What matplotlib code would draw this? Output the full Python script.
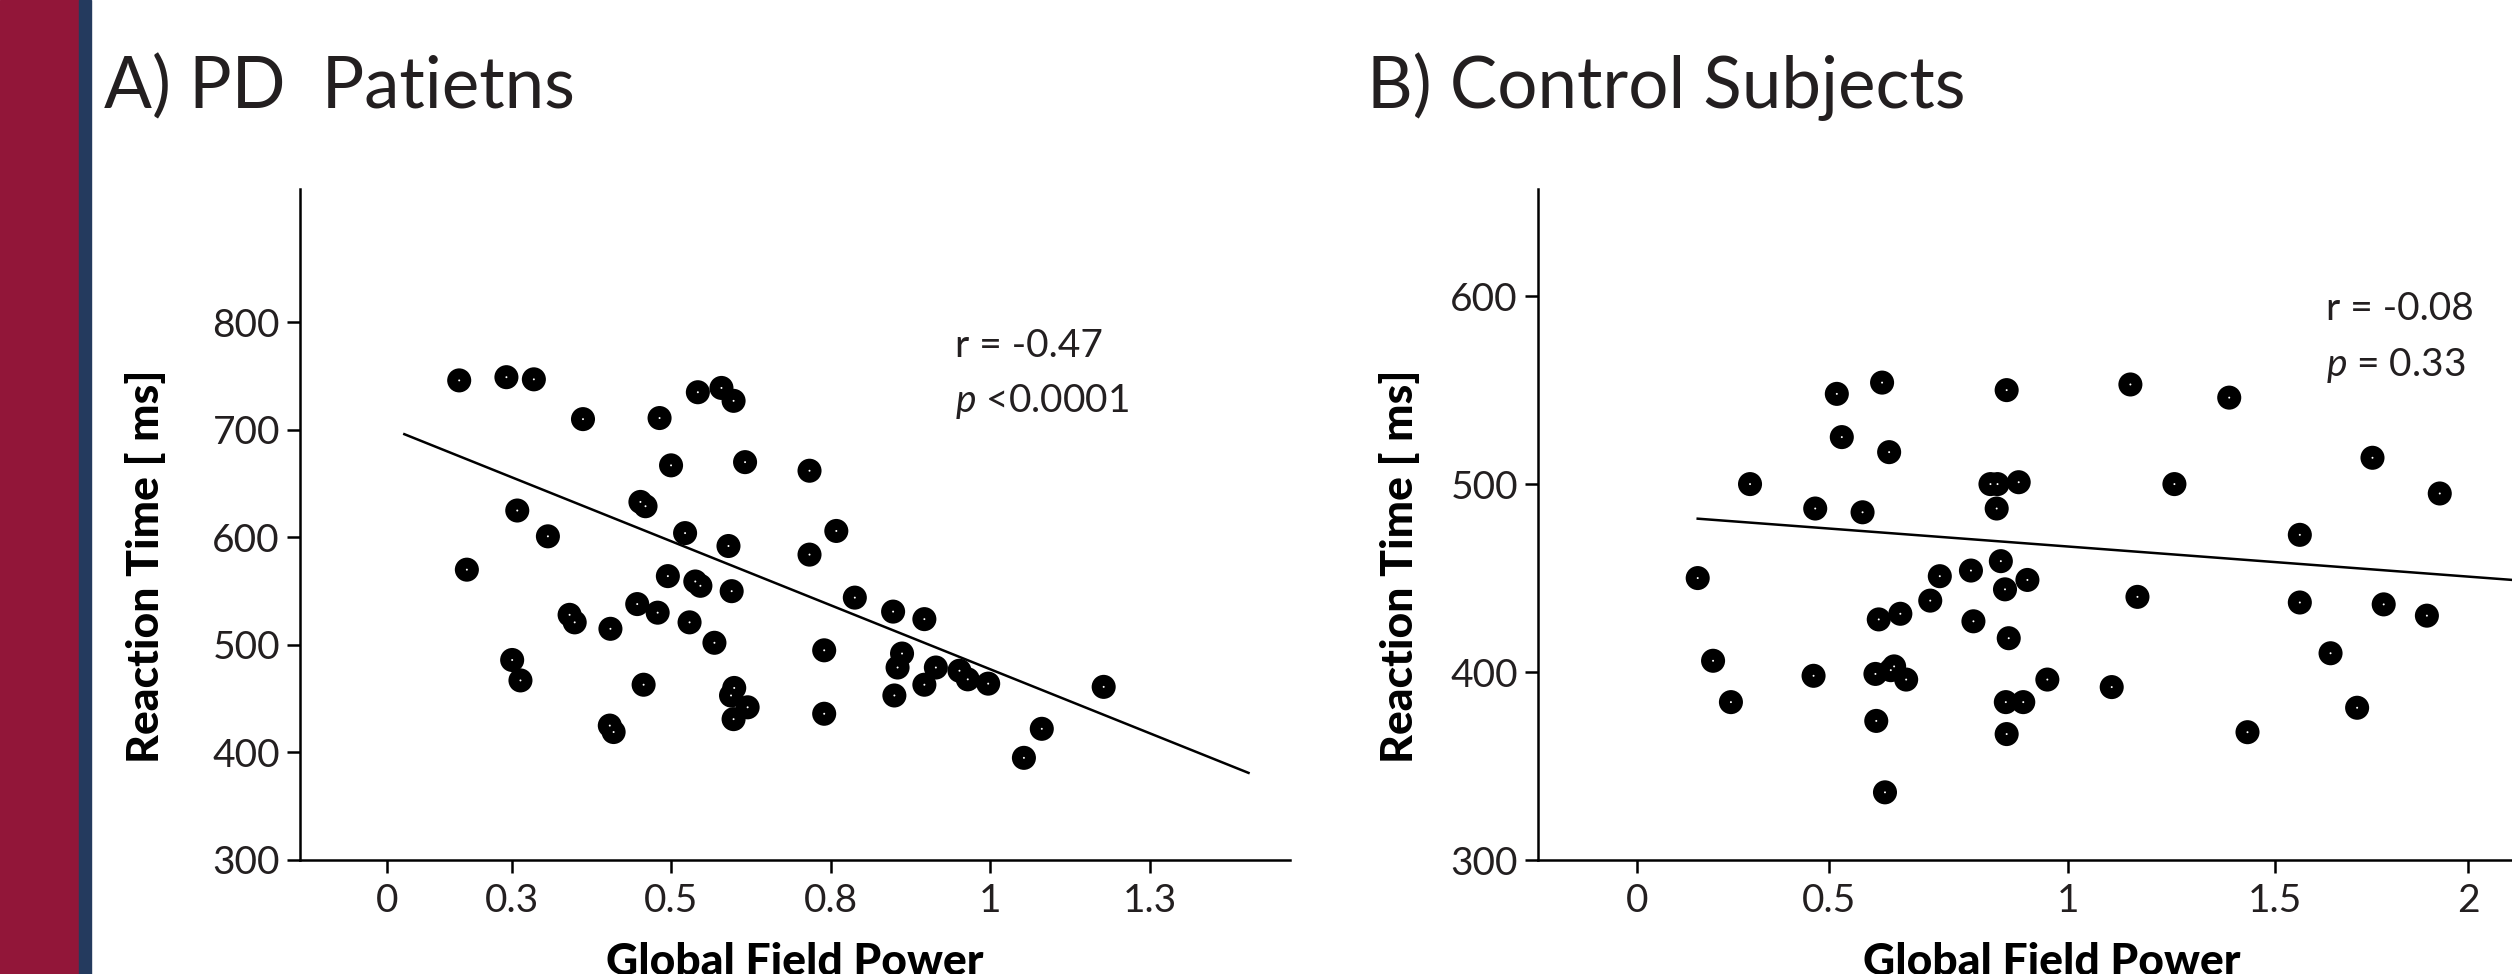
import numpy as np
import matplotlib
matplotlib.use('Agg')
import matplotlib.pyplot as plt
from matplotlib.patches import Rectangle

plt.rcParams['font.family'] = ['Lato', 'DejaVu Sans']
plt.rcParams['mathtext.fontset'] = 'custom'
plt.rcParams['mathtext.it'] = 'Lato:italic'
plt.rcParams['mathtext.rm'] = 'Lato'

TXT = '#231f20'

# ---------- data ----------
# A) PD patients
pd_gfp = [0.168, 0.242, 0.285, 0.362, 0.482, 0.542, 0.579, 0.598, 0.500, 0.616,
          0.717, 0.452, 0.460, 0.259, 0.307, 0.522, 0.590, 0.717, 0.759, 0.180,
          0.495, 0.538, 0.546, 0.595, 0.788, 0.447, 0.479, 0.341, 0.349, 0.405,
          0.529, 0.568, 0.848, 0.897, 0.740, 0.862, 0.855, 0.915, 0.952, 0.965,
          0.997, 0.897, 0.850, 1.178, 0.251, 0.264, 0.457, 0.599, 0.594, 0.620,
          0.598, 0.740, 0.404, 0.410, 1.081, 1.053]
pd_rt = [746, 749, 747, 710, 711, 735, 739, 727, 667, 670,
         662, 633, 629, 625, 601, 604, 592, 584, 606, 570,
         564, 559, 555, 550, 544, 538, 530, 528, 521, 515,
         521, 502, 531, 524, 495, 492, 479, 479, 476, 468,
         464, 463, 453, 461, 486, 467, 463, 460, 453, 442,
         431, 436, 425, 419, 422, 395]
pd_fit_x = [0.082, 1.405]
pd_fit_y = [696, 381]

# B) control subjects
ctl_gfp = [0.145, 0.182, 0.225, 0.271, 0.428, 0.424, 0.480, 0.492, 0.542, 0.589,
           0.606, 0.581, 0.633, 0.573, 0.618, 0.610, 0.647, 0.575, 0.596, 0.705,
           0.728, 0.803, 0.809, 0.850, 0.867, 0.918, 0.865, 0.875, 0.885, 0.939,
           0.894, 0.887, 0.929, 0.889, 0.889, 0.987, 1.142, 1.187, 1.204, 1.293,
           1.425, 1.469, 1.595, 1.595, 1.669, 1.733, 1.770, 1.797, 1.901, 1.932]
ctl_rt = [450, 406, 384, 500, 487, 398, 548, 525, 485, 554,
          517, 428, 431, 399, 403, 401, 396, 374, 336, 438,
          451, 454, 427, 500, 500, 501, 487, 459, 444, 449,
          418, 384, 384, 367, 550, 396, 392, 553, 440, 500,
          546, 368, 473, 437, 410, 381, 514, 436, 430, 495]
ctl_fit_x = [0.145, 2.30]
ctl_fit_y = [481.6, 445.8]

pd_xticks = [0.055, 0.25, 0.5, 0.75, 1.0, 1.25]
pd_xticklabels = ['0', '0.3', '0.5', '0.8', '1', '1.3']
pd_yticks = [300, 400, 500, 600, 700, 800]
ctl_xticks = [0.0, 0.461, 1.037, 1.535, 2.0]
ctl_xticklabels = ['0', '0.5', '1', '1.5', '2']
ctl_yticks = [300, 400, 500, 600]

fig = plt.figure(figsize=(25.12, 9.74), dpi=100)

# side bars
fig.patches.append(Rectangle((0, 0), 79 / 2512, 1, transform=fig.transFigure,
                             color='#921639', zorder=0))
fig.patches.append(Rectangle((79 / 2512, 0), 12 / 2512, 1, transform=fig.transFigure,
                             color='#243a5e', zorder=0))


def style(ax):
    for s in ['top', 'right']:
        ax.spines[s].set_visible(False)
    for s in ['left', 'bottom']:
        ax.spines[s].set_linewidth(1.8)
        ax.spines[s].set_color('black')
    ax.tick_params(direction='out', length=9.4, width=1.8, labelsize=28,
                   colors='black', labelcolor=TXT)
    ax.tick_params(axis='y', pad=5)
    ax.tick_params(axis='x', pad=7)


def scatter(ax, x, y):
    ax.scatter(x, y, s=300, c='black', edgecolors='none', zorder=3)
    ax.scatter(x, y, s=2, c='white', edgecolors='none', zorder=4)


lab = dict(fontsize=32, fontweight='black', color='black')

# ---- panel A ----
axA = fig.add_axes([300 / 2512, 1 - 860 / 974, 990 / 2512, 671 / 974])
style(axA)
scatter(axA, pd_gfp, pd_rt)
axA.plot(pd_fit_x, pd_fit_y, color='black', lw=1.8, zorder=2)
axA.set_xlim(-0.0815, 1.470)
axA.set_ylim(300, 924)
axA.set_xticks(pd_xticks)
axA.set_xticklabels(pd_xticklabels)
axA.set_yticks(pd_yticks)
axA.set_ylabel('Reaction Time [ ms]', va='center', **lab)
axA.yaxis.set_label_coords(-0.1556, 0.438)
axA.set_xlabel('Global Field Power', va='top', **lab)
axA.xaxis.set_label_coords(0.5, -0.122)
axA.text(0.6616, 0.7496, 'r = -0.47', transform=axA.transAxes, fontsize=28, color=TXT)
axA.text(0.6616, 0.6677, '$p$ <0.0001', transform=axA.transAxes, fontsize=28, color=TXT)

# ---- panel B ----
axB = fig.add_axes([1538 / 2512, 1 - 860 / 974, 1028 / 2512, 671 / 974])
style(axB)
scatter(axB, ctl_gfp, ctl_rt)
axB.plot(ctl_fit_x, ctl_fit_y, color='black', lw=1.8, zorder=2)
axB.set_xlim(-0.2396, 2.236)
axB.set_ylim(300, 657)
axB.set_xticks(ctl_xticks)
axB.set_xticklabels(ctl_xticklabels)
axB.set_yticks(ctl_yticks)
axB.set_ylabel('Reaction Time [ ms]', va='center', **lab)
axB.yaxis.set_label_coords(-0.1352, 0.438)
axB.set_xlabel('Global Field Power', va='top', **lab)
axB.xaxis.set_label_coords(0.5, -0.122)
axB.text(0.7665, 0.8048, 'r = -0.08', transform=axB.transAxes, fontsize=28, color=TXT)
axB.text(0.7665, 0.7213, '$p$ = 0.33', transform=axB.transAxes, fontsize=28, color=TXT)

fig.text(104 / 2512, 1 - 108 / 974, 'A) PD  Patietns', fontsize=51, color=TXT, va='baseline')
fig.text(1367 / 2512, 1 - 108 / 974, 'B) Control Subjects', fontsize=51, color=TXT, va='baseline')

fig.savefig('out.png', dpi=100)
